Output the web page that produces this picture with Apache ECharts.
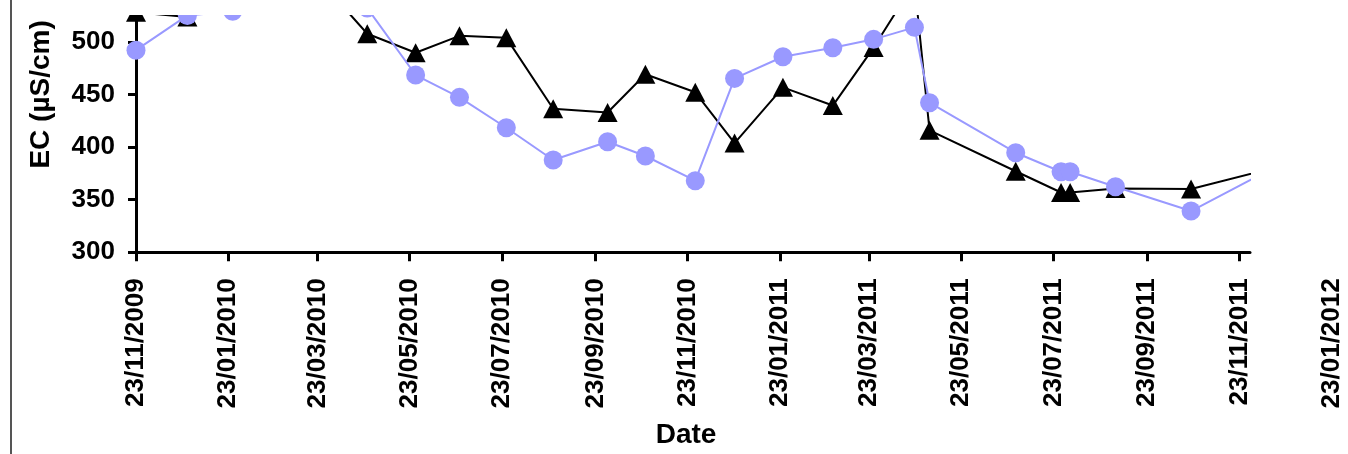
<!DOCTYPE html>
<html>
<head>
<meta charset="utf-8">
<script src="https://cdn.jsdelivr.net/npm/echarts@6/dist/echarts.min.js"></script>
<style>
  html, body { margin: 0; padding: 0; background: #fff; }
  #chart { width: 1348px; height: 454px; }
</style>
</head>
<body>
<div id="chart"></div>
<script>
// ---- data ----
const sampleDates = ['23/11/2009','27/12/2009','26/01/2010','24/02/2010','26/03/2010','25/04/2010','27/05/2010','25/06/2010','26/07/2010','26/08/2010','01/10/2010','26/10/2010','28/11/2010','24/12/2010','25/01/2011','27/02/2011','26/03/2011','22/04/2011','02/05/2011','28/06/2011','28/07/2011','03/08/2011','02/09/2011','22/10/2011','27/12/2011'];
const triangleSeries = [528, 523.5, 565, 580, 556, 507.6, 489.6, 505.6, 503.7, 436.3, 432.8, 469.1, 452, 403.8, 456.7, 439.4, 494.5, 556, 415.9, 377, 356.8, 356.8, 360.6, 360.1, 384.4];
const circleSeries = [492, 525, 529, 560, 555, 532, 468.4, 447.2, 418.3, 387.7, 405, 391.5, 368, 465.2, 485.8, 494.3, 502.3, 513.7, 442.1, 394.6, 376.5, 376.5, 362.3, 339.2, 388.8];
const xTickDates = ['23/11/2009','23/01/2010','23/03/2010','23/05/2010','23/07/2010','23/09/2010','23/11/2010','23/01/2011','23/03/2011','23/05/2011','23/07/2011','23/09/2011','23/11/2011'];
const xLabelDates = ['23/11/2009','23/01/2010','23/03/2010','23/05/2010','23/07/2010','23/09/2010','23/11/2010','23/01/2011','23/03/2011','23/05/2011','23/07/2011','23/09/2011','23/11/2011','23/01/2012'];
const yTicks = [300, 350, 400, 450, 500];
const xStart = '23/11/2009';
const xEnd = '30/11/2011';
const xLabelEnd = '23/01/2012';
const yMin = 300, yMax = 600, yStep = 50;

// ---- helpers ----
function ts(s) { const p = s.split('/'); return Date.UTC(+p[2], +p[1] - 1, +p[0]); }
function fmt(v) {
  const d = new Date(v);
  const dd = String(d.getUTCDate()).padStart(2, '0');
  const mm = String(d.getUTCMonth() + 1).padStart(2, '0');
  return dd + '/' + mm + '/' + d.getUTCFullYear();
}

const FONT = "'Liberation Sans', Arial, sans-serif";
const chart = echarts.init(document.getElementById('chart'), null, { renderer: 'canvas' });

const gridTop = -63.5, gridBottom = 201.7, gridLeft = 136;
const option = {
  animation: false,
  backgroundColor: '#ffffff',
  grid: [
    { left: gridLeft, right: 98, top: gridTop, bottom: gridBottom, containLabel: false, outerBoundsMode: 'none' },
    { left: gridLeft, right: 16.4, top: gridTop, bottom: gridBottom, containLabel: false, outerBoundsMode: 'none' }
  ],
  xAxis: [
    {
      type: 'value', gridIndex: 0,
      min: ts(xStart), max: ts(xEnd),
      axisLine: { show: true, onZero: false, lineStyle: { color: '#000', width: 3 } },
      axisTick: { show: true, length: 9, lineStyle: { color: '#000', width: 3 }, customValues: xTickDates.map(ts) },
      axisLabel: { show: false },
      splitLine: { show: false },
      name: 'Date', nameLocation: 'middle', nameGap: 169,
      nameTextStyle: { fontFamily: FONT, fontWeight: 'bold', fontSize: 28, color: '#000', padding: [0, 14, 0, 0] }
    },
    {
      type: 'value', gridIndex: 1,
      min: ts(xStart), max: ts(xLabelEnd),
      axisLine: { show: false },
      axisTick: { show: false },
      splitLine: { show: false },
      axisLabel: {
        show: true, rotate: 90, margin: 26,
        customValues: xLabelDates.map(ts),
        formatter: fmt,
        fontFamily: FONT, fontWeight: 'bold', fontSize: 26, color: '#000'
      }
    }
  ],
  yAxis: [
    {
      type: 'value', gridIndex: 0,
      min: yMin, max: yMax, interval: yStep,
      axisLine: { show: true, onZero: false, lineStyle: { color: '#000', width: 3 } },
      axisTick: { show: true, length: 8, lineStyle: { color: '#000', width: 3 }, customValues: yTicks },
      axisLabel: { show: true, margin: 21, customValues: yTicks, fontFamily: FONT, fontWeight: 'bold', fontSize: 26, color: '#000' },
      splitLine: { show: false },
      name: 'EC (µS/cm)', nameLocation: 'middle', nameGap: 81,
      nameTextStyle: { fontFamily: FONT, fontWeight: 'bold', fontSize: 28, color: '#000' }
    },
    {
      type: 'value', gridIndex: 1, min: yMin, max: yMax, show: false
    }
  ],
  series: [
    {
      name: 'Triangles', type: 'line', xAxisIndex: 0, yAxisIndex: 0,
      data: sampleDates.map((d, i) => [ts(d), triangleSeries[i]]),
      symbol: 'triangle', symbolSize: [20, 19], showAllSymbol: true,
      lineStyle: { color: '#000', width: 2 },
      itemStyle: { color: '#000' },
      clip: true, z: 2
    },
    {
      name: 'Circles', type: 'line', xAxisIndex: 0, yAxisIndex: 0,
      data: sampleDates.map((d, i) => [ts(d), circleSeries[i]]),
      symbol: 'circle', symbolSize: 19, showAllSymbol: true,
      lineStyle: { color: '#9999ff', width: 2 },
      itemStyle: { color: '#9999ff' },
      clip: true, z: 3
    }
  ],
  graphic: [
    { type: 'rect', z: 100, shape: { x: 100, y: 0, width: 1200, height: 15 }, style: { fill: '#ffffff' } },
    { type: 'line', z: 101, shape: { x1: 11, y1: 0, x2: 11, y2: 454 }, style: { stroke: '#555555', lineWidth: 2 } }
  ]
};
chart.setOption(option);
</script>
</body>
</html>
